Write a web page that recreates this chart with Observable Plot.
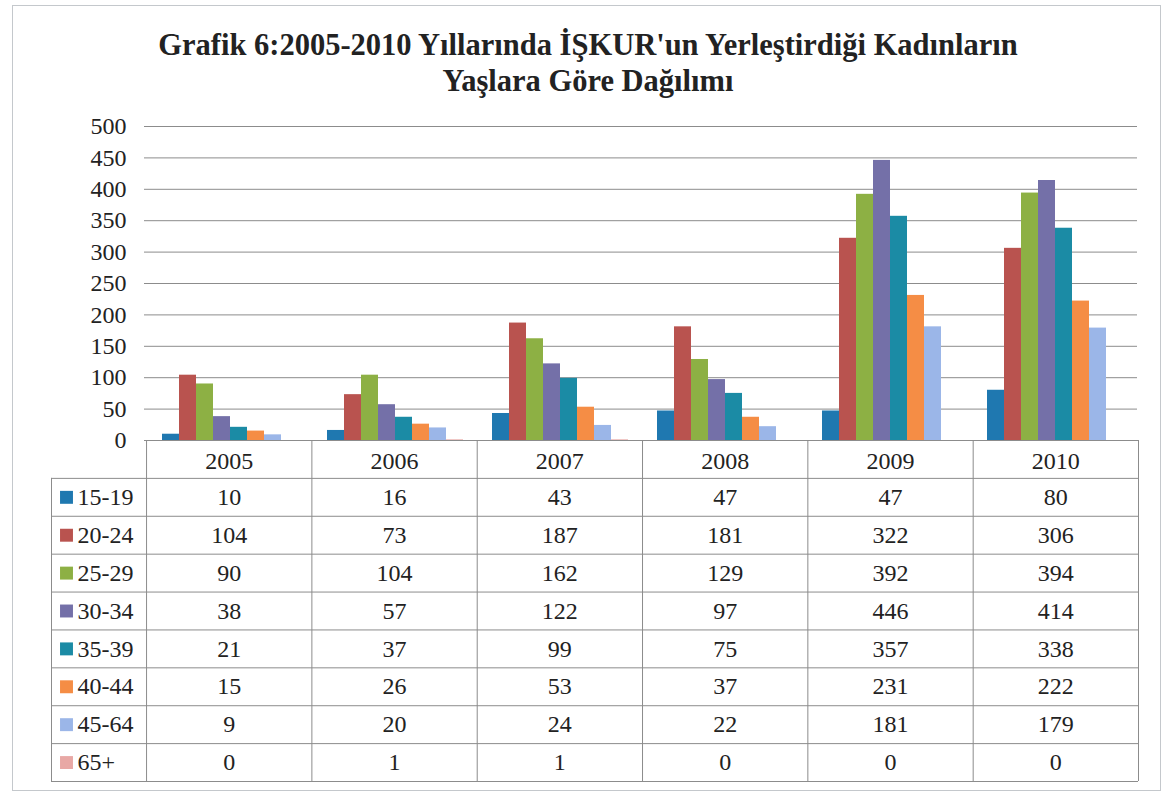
<!DOCTYPE html>
<html><head><meta charset="utf-8">
<script src="https://cdn.jsdelivr.net/npm/d3@7"></script>
<script src="https://cdn.jsdelivr.net/npm/@observablehq/plot@0.6"></script>
<style>
body{margin:0;background:#fff;}
#wrap{position:relative;width:1165px;height:792px;background:#fff;overflow:hidden;}
#border{position:absolute;left:12px;top:5px;width:1147px;height:784px;border:1px solid #c4c8cc;}
#title{position:absolute;left:0;top:27px;width:1176px;text-align:center;font-family:"Liberation Serif","Times New Roman","DejaVu Serif",serif;font-weight:bold;font-size:30.5px;line-height:36px;color:#222;}
#chart{position:absolute;left:0;top:110px;}
#table{position:absolute;left:0;top:439px;}
</style></head><body>
<div id="wrap"><div id="border"></div>
<div id="title">Grafik 6:2005-2010 Yıllarında İŞKUR'un Yerleştirdiği Kadınların<br>Yaşlara Göre Dağılımı</div>
<div id="chart"></div><div id="table"></div></div>
<script>
const years = ["2005","2006","2007","2008","2009","2010"];
const ageGroups = ["15-19","20-24","25-29","30-34","35-39","40-44","45-64","65+"];
const age15_19 = [10,16,43,47,47,80];
const age20_24 = [104,73,187,181,322,306];
const age25_29 = [90,104,162,129,392,394];
const age30_34 = [38,57,122,97,446,414];
const age35_39 = [21,37,99,75,357,338];
const age40_44 = [15,26,53,37,231,222];
const age45_64 = [9,20,24,22,181,179];
const age65plus = [0,1,1,0,0,0];
const seriesColors = ["#1f78b0","#b9534f","#8db044","#7470a8","#1b8ba5","#f58d45","#9bb6e8","#e8a8a5"];
const yTicks = [0,50,100,150,200,250,300,350,400,450,500];

const seriesValues = [age15_19,age20_24,age25_29,age30_34,age35_39,age40_44,age45_64,age65plus];
const rows = [];
ageGroups.forEach((g, gi) => seriesValues[gi].forEach((v, yi) =>
  rows.push({year: years[yi], group: g, value: v, col: yi, row: gi + 1})));

const serif = "'Liberation Serif', 'Times New Roman', 'DejaVu Serif', serif";
const lineColor = "#8c8c8c";
const fs = 24;

const chart = Plot.plot({
  width: 1165, height: 345,
  marginTop: 16, marginBottom: 15, marginLeft: 146, marginRight: 27,
  style: {background: "transparent", fontFamily: serif},
  fx: {domain: years, padding: 0, axis: null, label: null},
  x: {domain: ageGroups, paddingInner: 0, paddingOuter: 0.75, axis: null},
  y: {domain: [0, 500], axis: null},
  color: {domain: ageGroups, range: seriesColors},
  marks: [
    Plot.gridY(yTicks, {stroke: lineColor, strokeOpacity: 1}),
    Plot.barY(rows, {fx: "year", x: "group", y: "value", fill: "group"}),
    Plot.axisY(yTicks, {line: true, tickSize: 3, tickPadding: 18, stroke: lineColor, fill: "#222",
      fontSize: fs, fontFamily: serif, label: null})
  ]
});
document.getElementById("chart").append(chart);

const labelCol = -0.575;
const nRows = ageGroups.length + 1;
const colEdges = d3.range(0, years.length + 1);
const rowEdges = d3.range(1, nRows + 1);
const legendRows = ageGroups.map((g, i) => ({group: g, row: i + 1}));
const headers = years.map((y, i) => ({year: y, col: i}));

const table = Plot.plot({
  width: 1165, height: 345,
  marginTop: 1, marginBottom: 3, marginLeft: 51, marginRight: 27,
  style: {background: "transparent", fontFamily: serif},
  x: {domain: [labelCol, years.length], axis: null},
  y: {domain: [0, nRows], reverse: true, axis: null},
  color: {domain: ageGroups, range: seriesColors},
  marks: [
    Plot.ruleY([0], {x1: 0, x2: years.length, stroke: lineColor}),
    Plot.ruleY(rowEdges, {x1: labelCol, x2: years.length, stroke: lineColor}),
    Plot.ruleX(colEdges, {y1: 0, y2: nRows, stroke: lineColor}),
    Plot.ruleX([labelCol], {y1: 1, y2: nRows, stroke: lineColor}),
    Plot.text(headers, {x: d => d.col + 0.5, y: 0.5, dy: 2, text: "year", fontSize: fs, fontFamily: serif, fill: "#222"}),
    Plot.text(rows, {x: d => d.col + 0.5, y: d => d.row + 0.5, text: d => String(d.value), fontSize: fs, fontFamily: serif, fill: "#222"}),
    Plot.dot(legendRows, {x: labelCol, y: d => d.row + 0.5, dx: 15, symbol: "square", r: 7.3, fill: "group", stroke: null}),
    Plot.text(legendRows, {x: labelCol, y: d => d.row + 0.5, dx: 26, text: "group", textAnchor: "start", fontSize: fs, fontFamily: serif, fill: "#222"})
  ]
});
document.getElementById("table").append(table);
</script>
</body></html>
